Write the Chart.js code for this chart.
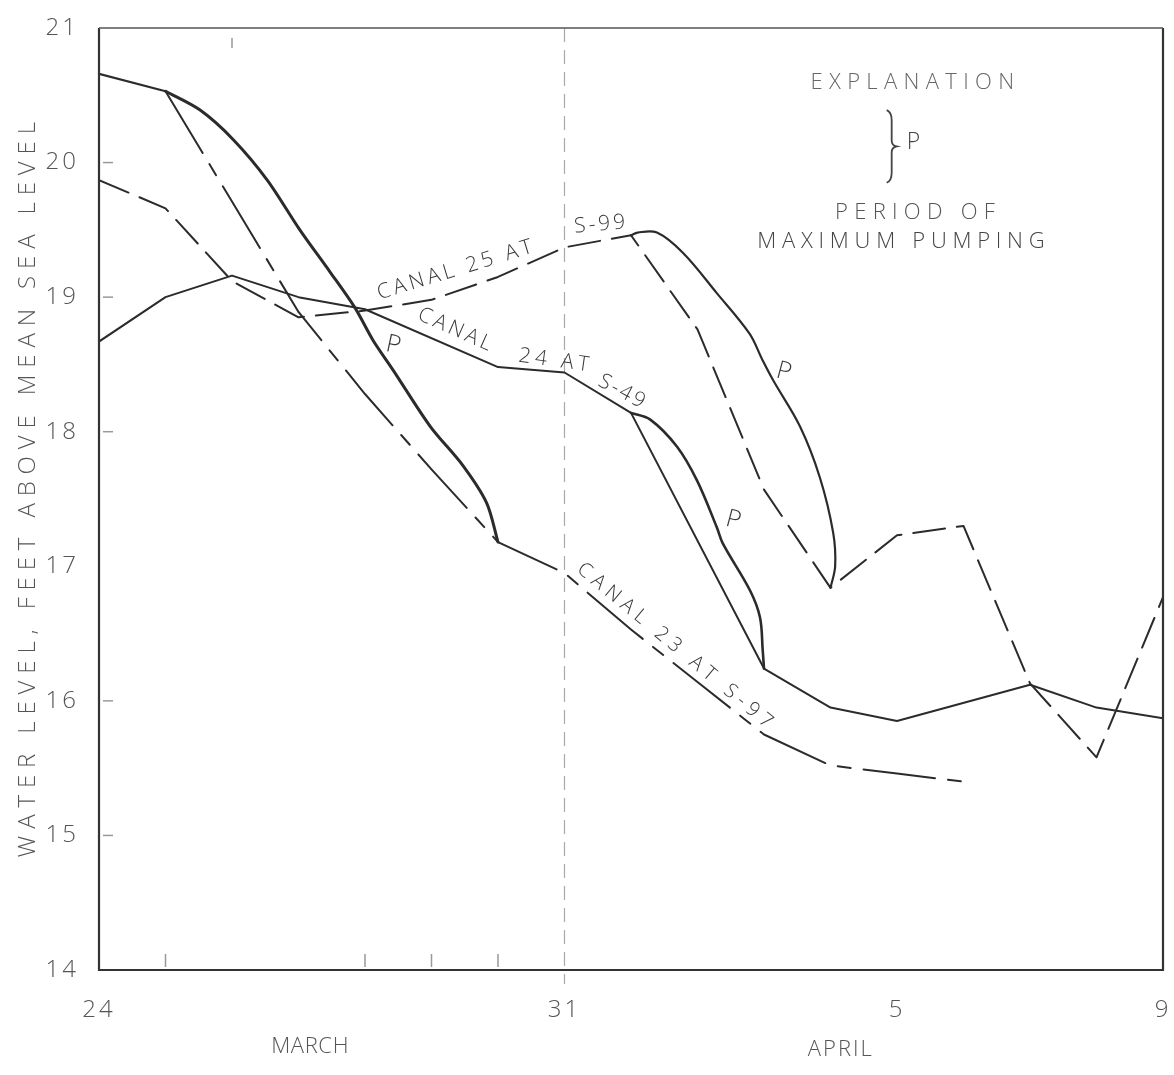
<!DOCTYPE html>
<html>
<head>
<meta charset="utf-8">
<title>Water level in Canals 23, 24 and 25</title>
<script src="https://cdn.jsdelivr.net/npm/chart.js@4.4.1/dist/chart.umd.min.js"></script>
<style>
  body { margin: 0; background: #fff; }
  canvas { display: block; }
</style>
</head>
<body>
<canvas id="canvas" width="1174" height="1075"></canvas>
<script>
// days counted from March 24 (0) to April 9 (16)
let xTickDays = [0, 7, 12, 16];
let xTickLabels = ["24", "31", "5", "9"];
let yTicks = [14, 15, 16, 17, 18, 19, 20, 21];

// Canal 23 at S-97
let c23StartDays = [0, 1];
let c23StartLevels = [20.66, 20.53];
let c23Days = [1, 2, 3, 4, 5, 6, 7, 8, 9, 10, 11, 12, 13];
let c23Levels = [20.53, 19.71, 18.89, 18.28, 17.72, 17.18, 16.95, 16.53, 16.14, 15.75, 15.52, 15.46, 15.40];
let c23PumpDays = [1, 1.52, 2.02, 2.53, 3.02, 3.47, 3.85, 4.12, 4.42, 4.98, 5.47, 5.83, 6];
let c23PumpLevels = [20.53, 20.39, 20.17, 19.87, 19.50, 19.19, 18.92, 18.68, 18.46, 18.04, 17.75, 17.47, 17.18];

// Canal 24 at S-49
let c24Days = [0, 1, 2, 3, 4, 6, 7, 8, 10, 11, 12, 14, 15, 16];
let c24Levels = [18.67, 19.0, 19.16, 19.0, 18.91, 18.48, 18.44, 18.14, 16.24, 15.95, 15.85, 16.12, 15.95, 15.87];
let c24PumpDays = [8, 8.29, 8.69, 8.99, 9.29, 9.38, 9.79, 9.94, 9.98, 10];
let c24PumpLevels = [18.14, 18.09, 17.89, 17.64, 17.29, 17.17, 16.82, 16.62, 16.38, 16.24];

// Canal 25 at S-99
let c25Days = [0, 1, 2, 3, 4, 5, 6, 7, 8, 9, 10, 11, 12, 13, 14, 15, 16];
let c25Levels = [19.87, 19.66, 19.12, 18.85, 18.90, 18.98, 19.15, 19.37, 19.46, 18.76, 17.57, 16.84, 17.23, 17.30, 16.13, 15.58, 16.77];
let c25PumpDays = [8, 8.1, 8.39, 8.78, 9.29, 9.78, 9.98, 10.14, 10.54, 10.84, 11.04, 11.07, 11];
let c25PumpLevels = [19.46, 19.48, 19.48, 19.33, 19.03, 18.73, 18.53, 18.38, 18.04, 17.66, 17.25, 17.0, 16.84];

let ink = "#2b2b2b";
let font = '"Open Sans", "DejaVu Sans", sans-serif';

let pts = (days, levels) => days.map((d, i) => ({ x: d, y: levels[i] }));

function line(days, levels, width, dash, tension) {
    return {
        data: pts(days, levels),
        borderColor: ink,
        borderWidth: width,
        borderDash: dash || [],
        tension: tension || 0,
        pointRadius: 0,
        fill: false,
        borderCapStyle: "round",
        borderJoinStyle: "round"
    };
}

function drawText(chart, text, d, v, size, angle, width, color) {
    let ctx = chart.ctx;
    let x = chart.scales.x.getPixelForValue(d);
    let y = chart.scales.y.getPixelForValue(v);
    ctx.save();
    ctx.translate(x, y);
    ctx.rotate(angle * Math.PI / 180);
    ctx.font = "300 " + size + "px " + font;
    ctx.fillStyle = color || "#3a3a3a";
    ctx.textAlign = "center";
    ctx.textBaseline = "middle";
    let sp = 0;
    if (width) {
        ctx.letterSpacing = "0px";
        let w = ctx.measureText(text).width;
        sp = (width - w) / text.length;
        ctx.letterSpacing = sp + "px";
    }
    ctx.fillText(text, sp / 2, 0);
    ctx.restore();
}

// labels written on the figure
let decorations = {
    id: "decorations",
    beforeDraw(chart) {
        chart.ctx.letterSpacing = "3px";
    },
    beforeDatasetsDraw(chart) {
        let ctx = chart.ctx;
        let area = chart.chartArea;
        let xs = chart.scales.x;
        let ys = chart.scales.y;
        ctx.save();
        ctx.letterSpacing = "0px";
        // March 31 guide line
        ctx.strokeStyle = "#aaa";
        ctx.lineWidth = 1.2;
        ctx.setLineDash([14, 8]);
        ctx.beginPath();
        ctx.moveTo(xs.getPixelForValue(7), area.top);
        ctx.lineTo(xs.getPixelForValue(7), area.bottom + 14);
        ctx.stroke();
        ctx.setLineDash([]);
        // small inside ticks
        ctx.strokeStyle = "#999";
        ctx.lineWidth = 1.5;
        [20, 19, 18, 16, 15].forEach(v => {
            let y = ys.getPixelForValue(v);
            ctx.beginPath();
            ctx.moveTo(area.left + 4, y);
            ctx.lineTo(area.left + 14, y);
            ctx.stroke();
        });
        [1, 4, 5, 6].forEach(d => {
            let x = xs.getPixelForValue(d);
            ctx.beginPath();
            ctx.moveTo(x, area.bottom - 16);
            ctx.lineTo(x, area.bottom - 3);
            ctx.stroke();
        });
        ctx.beginPath();
        ctx.moveTo(xs.getPixelForValue(2), area.top + 10);
        ctx.lineTo(xs.getPixelForValue(2), area.top + 20);
        ctx.stroke();
        ctx.restore();
    },
    afterDatasetsDraw(chart) {
        let ctx = chart.ctx;
        let area = chart.chartArea;
        let xs = chart.scales.x;
        let ys = chart.scales.y;
        ctx.save();
        // frame
        ctx.strokeStyle = "#333";
        ctx.lineWidth = 2.2;
        ctx.beginPath();
        ctx.moveTo(area.left, area.top);
        ctx.lineTo(area.left, area.bottom);
        ctx.lineTo(area.right, area.bottom);
        ctx.lineTo(area.right, area.top);
        ctx.stroke();
        ctx.strokeStyle = "#555";
        ctx.lineWidth = 1.5;
        ctx.beginPath();
        ctx.moveTo(area.left, area.top);
        ctx.lineTo(area.right, area.top);
        ctx.stroke();

        // bracket of the explanation
        let bx = xs.getPixelForValue(11.92);
        let by1 = ys.getPixelForValue(20.39);
        let by2 = ys.getPixelForValue(19.85);
        let bm = (by1 + by2) / 2;
        ctx.strokeStyle = "#444";
        ctx.lineWidth = 1.8;
        ctx.beginPath();
        ctx.moveTo(bx - 5, by1);
        ctx.quadraticCurveTo(bx, by1 + 2, bx, by1 + 10);
        ctx.lineTo(bx, bm - 6);
        ctx.quadraticCurveTo(bx, bm - 1, bx + 5, bm);
        ctx.quadraticCurveTo(bx, bm + 1, bx, bm + 6);
        ctx.lineTo(bx, by2 - 10);
        ctx.quadraticCurveTo(bx, by2 - 2, bx - 5, by2);
        ctx.stroke();
        ctx.restore();

        drawText(chart, "CANAL 25 AT", 5.35, 19.20, 21, -17, 165);
        drawText(chart, "S-99", 7.53, 19.54, 21, -5, 54);
        drawText(chart, "CANAL", 5.35, 18.76, 21, 24, 82);
        drawText(chart, "24 AT", 6.84, 18.53, 21, 8, 75);
        drawText(chart, "S-49", 7.86, 18.30, 21, 28, 52);
        drawText(chart, "CANAL 23 AT S-97", 8.66, 16.41, 20, 39.7, 253);
        drawText(chart, "P", 4.45, 18.64, 25, 12, 0);
        drawText(chart, "P", 10.32, 18.44, 25, 15, 0);
        drawText(chart, "P", 9.56, 17.34, 25, 15, 0);

        drawText(chart, "EXPLANATION", 12.23, 20.59, 22, 0, 210, "#666");
        drawText(chart, "P", 12.27, 20.15, 23, 0, 0, "#444");
        drawText(chart, "PERIOD OF", 12.27, 19.63, 22, 0, 166, "#555");
        drawText(chart, "MAXIMUM PUMPING", 12.06, 19.41, 22, 0, 293, "#444");

        drawText(chart, "MARCH", 3.17, 13.43, 22, 0, 78, "#555");
        drawText(chart, "APRIL", 11.14, 13.41, 22, 0, 66, "#555");
        drawText(chart, "WATER LEVEL, FEET ABOVE MEAN SEA LEVEL", -1.07, 17.57, 24, -90, 742, "#555");
    },
    afterDraw(chart) {
        chart.ctx.letterSpacing = "0px";
    }
};

let canvas = document.getElementById("canvas").getContext("2d");

let chart = new Chart(canvas, {
    type: "line",
    data: {
        datasets: [
            line(c23StartDays, c23StartLevels, 2.2),
            line(c23PumpDays, c23PumpLevels, 3, [], 0.3),
            line(c23Days, c23Levels, 2, [72, 13, 13, 13]),
            line(c24Days, c24Levels, 2),
            line(c24PumpDays, c24PumpLevels, 2.6, [], 0.35),
            line(c25Days, c25Levels, 2, [32, 12]),
            line(c25PumpDays, c25PumpLevels, 2.2, [], 0.35)
        ]
    },
    options: {
        responsive: false,
        animation: false,
        layout: {
            padding: { top: 28, right: 11, left: 0, bottom: 0 }
        },
        scales: {
            x: {
                type: "linear",
                min: 0,
                max: 16,
                afterFit: (scale) => {
                    scale.height = 105;
                    scale.paddingLeft = 0;
                    scale.paddingRight = 0;
                },
                afterBuildTicks: (scale) => {
                    scale.ticks = xTickDays.map(v => ({ value: v }));
                },
                ticks: {
                    callback: (v) => xTickLabels[xTickDays.indexOf(v)],
                    font: { size: 24, family: font, weight: 300 },
                    color: "#555",
                    padding: 18,
                    maxRotation: 0,
                    autoSkip: false
                },
                grid: { display: false },
                border: { display: false }
            },
            y: {
                min: 14,
                max: 21,
                afterFit: (scale) => {
                    scale.width = 99;
                    scale.paddingTop = 0;
                    scale.paddingBottom = 0;
                },
                afterBuildTicks: (scale) => {
                    scale.ticks = yTicks.map(v => ({ value: v }));
                },
                ticks: {
                    font: { size: 24, family: font, weight: 300 },
                    color: "#555",
                    padding: 12
                },
                grid: { display: false },
                border: { display: false }
            }
        },
        plugins: {
            legend: { display: false },
            tooltip: { enabled: false }
        }
    },
    plugins: [decorations]
});
</script>
</body>
</html>
